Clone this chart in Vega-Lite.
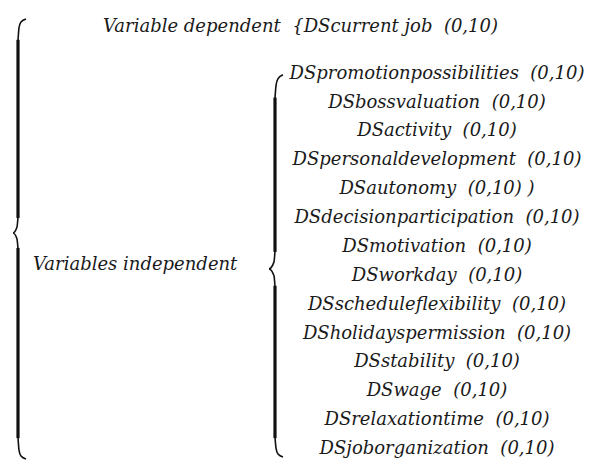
{
  "$schema": "https://vega.github.io/schema/vega-lite/v6.json",
  "width": 595,
  "height": 463,
  "autosize": {"type": "fit", "contains": "padding"},
  "padding": 0,
  "background": "white",
  "config": {"view": {"stroke": null}, "font": "DejaVu Serif", "text": {"font": "DejaVu Serif"}},
  "datasets": {
    "labels": [
      {"kind": "title", "label": "Variable dependent \u00a0{DScurrent job \u00a0(0,10)", "x": 103, "y": 27},
      {"kind": "side", "label": "Variables independent", "x": 33, "y": 266},
      {"kind": "item", "label": "DSpromotionpossibilities \u00a0(0,10)", "x": 437, "y": 74},
      {"kind": "item", "label": "DSbossvaluation \u00a0(0,10)", "x": 437, "y": 103},
      {"kind": "item", "label": "DSactivity \u00a0(0,10)", "x": 437, "y": 132},
      {"kind": "item", "label": "DSpersonaldevelopment \u00a0(0,10)", "x": 437, "y": 161},
      {"kind": "item", "label": "DSautonomy \u00a0(0,10) )", "x": 437, "y": 190},
      {"kind": "item", "label": "DSdecisionparticipation \u00a0(0,10)", "x": 437, "y": 219},
      {"kind": "item", "label": "DSmotivation \u00a0(0,10)", "x": 437, "y": 248},
      {"kind": "item", "label": "DSworkday \u00a0(0,10)", "x": 437, "y": 277},
      {"kind": "item", "label": "DSscheduleflexibility \u00a0(0,10)", "x": 437, "y": 306},
      {"kind": "item", "label": "DSholidayspermission \u00a0(0,10)", "x": 437, "y": 335},
      {"kind": "item", "label": "DSstability \u00a0(0,10)", "x": 437, "y": 364},
      {"kind": "item", "label": "DSwage \u00a0(0,10)", "x": 437, "y": 393},
      {"kind": "item", "label": "DSrelaxationtime \u00a0(0,10)", "x": 437, "y": 422},
      {"kind": "item", "label": "DSjoborganization \u00a0(0,10)", "x": 437, "y": 451}
    ],
    "stems": [
      {"brace": "outer", "x": 18, "y": 40, "y2": 219},
      {"brace": "outer", "x": 18, "y": 249, "y2": 440},
      {"brace": "inner", "x": 275, "y": 98, "y2": 253},
      {"brace": "inner", "x": 275, "y": 287, "y2": 440}
    ],
    "curves": [
      {"part": "o1", "seq": 1, "x": 26, "y": 19},
      {"part": "o1", "seq": 2, "x": 21, "y": 22},
      {"part": "o1", "seq": 3, "x": 19, "y": 28},
      {"part": "o1", "seq": 4, "x": 18, "y": 41},
      {"part": "o2", "seq": 1, "x": 18, "y": 218},
      {"part": "o2", "seq": 2, "x": 17, "y": 228},
      {"part": "o2", "seq": 3, "x": 13, "y": 234},
      {"part": "o2", "seq": 4, "x": 17, "y": 240},
      {"part": "o2", "seq": 5, "x": 18, "y": 250},
      {"part": "o3", "seq": 1, "x": 18, "y": 439},
      {"part": "o3", "seq": 2, "x": 19, "y": 452},
      {"part": "o3", "seq": 3, "x": 21, "y": 458},
      {"part": "o3", "seq": 4, "x": 26, "y": 461},
      {"part": "i1", "seq": 1, "x": 283, "y": 75},
      {"part": "i1", "seq": 2, "x": 278, "y": 79},
      {"part": "i1", "seq": 3, "x": 276, "y": 86},
      {"part": "i1", "seq": 4, "x": 275, "y": 99},
      {"part": "i2", "seq": 1, "x": 275, "y": 252},
      {"part": "i2", "seq": 2, "x": 274, "y": 263},
      {"part": "i2", "seq": 3, "x": 269, "y": 270},
      {"part": "i2", "seq": 4, "x": 274, "y": 277},
      {"part": "i2", "seq": 5, "x": 275, "y": 288},
      {"part": "i3", "seq": 1, "x": 275, "y": 439},
      {"part": "i3", "seq": 2, "x": 276, "y": 450},
      {"part": "i3", "seq": 3, "x": 278, "y": 456},
      {"part": "i3", "seq": 4, "x": 283, "y": 459}
    ]
  },
  "layer": [
    {
      "data": {"name": "stems"},
      "mark": {"type": "rule", "strokeWidth": 3.2, "color": "#111111"},
      "encoding": {
        "x": {"field": "x", "type": "quantitative", "scale": {"domain": [0, 595]}, "axis": null},
        "y": {"field": "y", "type": "quantitative", "scale": {"domain": [0, 463], "reverse": true}, "axis": null},
        "y2": {"field": "y2"}
      }
    },
    {
      "data": {"name": "curves"},
      "mark": {"type": "line", "strokeWidth": 1.6, "color": "#111111", "interpolate": "monotone"},
      "encoding": {
        "x": {"field": "x", "type": "quantitative", "scale": {"domain": [0, 595]}, "axis": null},
        "y": {"field": "y", "type": "quantitative", "scale": {"domain": [0, 463], "reverse": true}, "axis": null},
        "detail": {"field": "part"},
        "order": {"field": "seq"}
      }
    },
    {
      "data": {"name": "labels"},
      "transform": [{"filter": "datum.kind === 'item'"}],
      "mark": {"type": "text", "font": "DejaVu Serif", "fontStyle": "italic", "fontSize": 18, "align": "center", "baseline": "middle", "color": "#1a1a1a"},
      "encoding": {
        "x": {"field": "x", "type": "quantitative", "scale": {"domain": [0, 595]}, "axis": null},
        "y": {"field": "y", "type": "quantitative", "scale": {"domain": [0, 463], "reverse": true}, "axis": null},
        "text": {"field": "label"}
      }
    },
    {
      "data": {"name": "labels"},
      "transform": [{"filter": "datum.kind !== 'item'"}],
      "mark": {"type": "text", "font": "DejaVu Serif", "fontStyle": "italic", "fontSize": 18, "align": "left", "baseline": "middle", "color": "#1a1a1a"},
      "encoding": {
        "x": {"field": "x", "type": "quantitative", "scale": {"domain": [0, 595]}, "axis": null},
        "y": {"field": "y", "type": "quantitative", "scale": {"domain": [0, 463], "reverse": true}, "axis": null},
        "text": {"field": "label"}
      }
    }
  ]
}
